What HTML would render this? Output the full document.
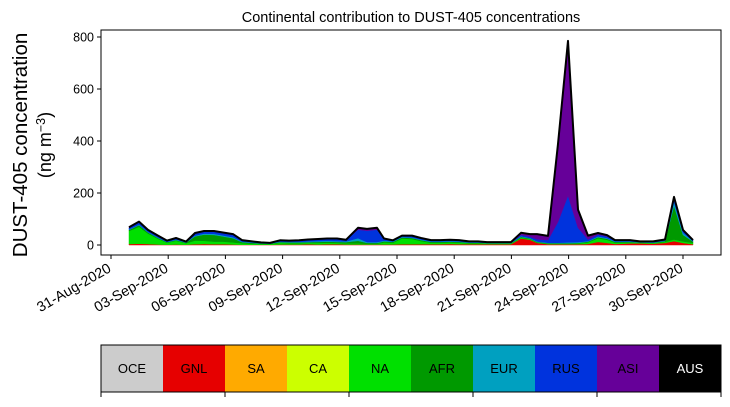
<!DOCTYPE html>
<html><head><meta charset="utf-8"><style>
body{margin:0;background:#fff;width:730px;height:402px;overflow:hidden}
text{font-family:"Liberation Sans","DejaVu Sans",sans-serif}
</style></head><body>
<svg id="s" width="730" height="402" xmlns="http://www.w3.org/2000/svg">
<text x="411" y="22" font-size="14.5" text-anchor="middle">Continental contribution to DUST-405 concentrations</text>
<g id="areas"></g>
<rect x="101" y="30" width="620" height="225" fill="none" stroke="#000" stroke-width="1"/>
<g font-size="12.5" text-anchor="end">
<line x1="97" y1="245" x2="101" y2="245" stroke="#000"/><text x="94" y="249.5">0</text>
<line x1="97" y1="193" x2="101" y2="193" stroke="#000"/><text x="94" y="197.5">200</text>
<line x1="97" y1="141" x2="101" y2="141" stroke="#000"/><text x="94" y="145.5">400</text>
<line x1="97" y1="89" x2="101" y2="89" stroke="#000"/><text x="94" y="93.5">600</text>
<line x1="97" y1="37" x2="101" y2="37" stroke="#000"/><text x="94" y="41.5">800</text>
</g>
<text transform="translate(27,145) rotate(-90)" font-size="20.5" text-anchor="middle">DUST-405 concentration</text>
<text transform="translate(51,145) rotate(-90)" font-size="18" text-anchor="middle">(ng m<tspan dy="-6" font-size="12.5">−3</tspan><tspan dy="6">)</tspan></text>
<g id="xt" font-size="14.3" text-anchor="end"></g>
<g id="cb"></g>
</svg>
<script>
(function(){
var NS="http://www.w3.org/2000/svg";
function el(t,a,p){var e=document.createElementNS(NS,t);for(var k in a)e.setAttribute(k,a[k]);p.appendChild(e);return e;}
var dates=["31-Aug-2020","03-Sep-2020","06-Sep-2020","09-Sep-2020","12-Sep-2020","15-Sep-2020","18-Sep-2020","21-Sep-2020","24-Sep-2020","27-Sep-2020","30-Sep-2020"];
var xt=document.getElementById("xt");
dates.forEach(function(d,i){var x=111+i*57.2;
el("line",{x1:x,y1:255,x2:x,y2:259,stroke:"#000"},xt);
var t=el("text",{transform:"translate("+(x+1)+",271) rotate(-30)"},xt);t.textContent=d;});
var D=[
[129,4,50,4,2,6,2],[139,5,65,6,3,9,2],[148,4,40,4,2,7,1],[158,2,22,3,2,6,1],[167,1,8,2,1,4,1],
[176,2,14,3,2,5,1],[186,1,6,2,1,2,1],[195,3,14,16,3,8,2],[204,4,12,24,4,8,2],[214,3,10,26,4,9,2],
[223,3,10,20,4,9,2],[233,2,8,16,4,10,2],[242,1,6,4,2,5,1],[252,1,4,3,2,3,1],[261,1,3,2,1,2,1],
[270,1,3,1,1,1,1],[280,2,6,3,2,4,1],[289,2,5,3,2,4,1],[299,2,5,3,2,5,1],[308,3,5,3,3,6,1],
[318,2,6,4,3,7,1],[327,3,6,4,3,8,1],[337,3,5,4,3,8,2],[346,2,4,5,3,5,1],[358,2,4,10,10,33,7],
[367,2,3,3,3,44,7],[377,2,3,3,3,48,7],[384,2,8,4,3,7,1],[393,2,7,3,2,3,1],[402,3,22,4,2,4,1],
[412,3,20,4,2,6,1],[421,3,12,4,2,5,1],[431,3,6,3,2,4,1],[440,3,6,3,2,4,1],[450,4,6,3,2,4,1],
[459,3,6,3,2,4,1],[469,3,4,2,1,3,1],[478,3,4,2,1,3,1],[487,3,3,1,1,2,1],[497,3,3,1,1,2,1],
[511,3,3,1,1,2,1],[521,25,3,3,3,5,8],[530,20,3,2,2,5,10],[537,8,2,2,2,8,20],[548,3,2,2,2,10,16],
[558,3,2,2,2,80,300],[568,3,2,2,3,180,595],[578,3,3,2,3,55,70],[588,4,6,3,2,6,15],[598,12,14,4,3,7,6],
[607,8,12,4,3,6,5],[615,4,5,3,2,3,2],[630,6,4,2,2,3,2],[640,6,3,1,1,2,1],[653,5,3,1,1,3,1],
[665,8,4,3,2,3,1],[674,15,6,130,15,10,9],[683,8,6,25,8,6,5],[693,3,5,5,2,3,1]];
var cols=["#e60000","#00e000","#009900","#00a0c0","#0033dd","#660099"];
var g=document.getElementById("areas");
var base=D.map(function(){return 0;});
function Y(v){return 245-v*0.26;}
for(var L=0;L<6;L++){
 var tp=D.map(function(r,i){return base[i]+r[L+1];});
 var p="M";
 D.forEach(function(r,i){p+=r[0]+","+Y(tp[i]).toFixed(1)+" L";});
 for(var i=D.length-1;i>=0;i--){p+=D[i][0]+","+Y(base[i]).toFixed(1)+(i?" L":"");}
 el("path",{d:p+"Z",fill:cols[L],stroke:cols[L],"stroke-width":0.5},g);
 base=tp;
}
var ol="M";D.forEach(function(r,i){ol+=r[0]+","+Y(base[i]).toFixed(1)+(i<D.length-1?" L":"");});
el("path",{d:ol,fill:"none",stroke:"#000","stroke-width":2,"stroke-linejoin":"round"},g);
var cb=document.getElementById("cb");
var names=["OCE","GNL","SA","CA","NA","AFR","EUR","RUS","ASI","AUS"];
var cc=["#cccccc","#e60000","#ffaa00","#ccff00","#00e000","#009900","#00a0c0","#0033dd","#660099","#000000"];
names.forEach(function(n,i){var x=101+i*62;
el("rect",{x:x,y:345,width:62,height:47,fill:cc[i]},cb);
var t=el("text",{x:x+31,y:373,"font-size":13,"text-anchor":"middle",fill:i==9?"#ffffff":"#000000"},cb);t.textContent=n;});
el("rect",{x:101,y:345,width:620,height:47,fill:"none",stroke:"#000"},cb);
for(var k=0;k<6;k++){var x=101+k*124;el("line",{x1:x,y1:392,x2:x,y2:397,stroke:"#000"},cb);}
})();
</script>
</body></html>
